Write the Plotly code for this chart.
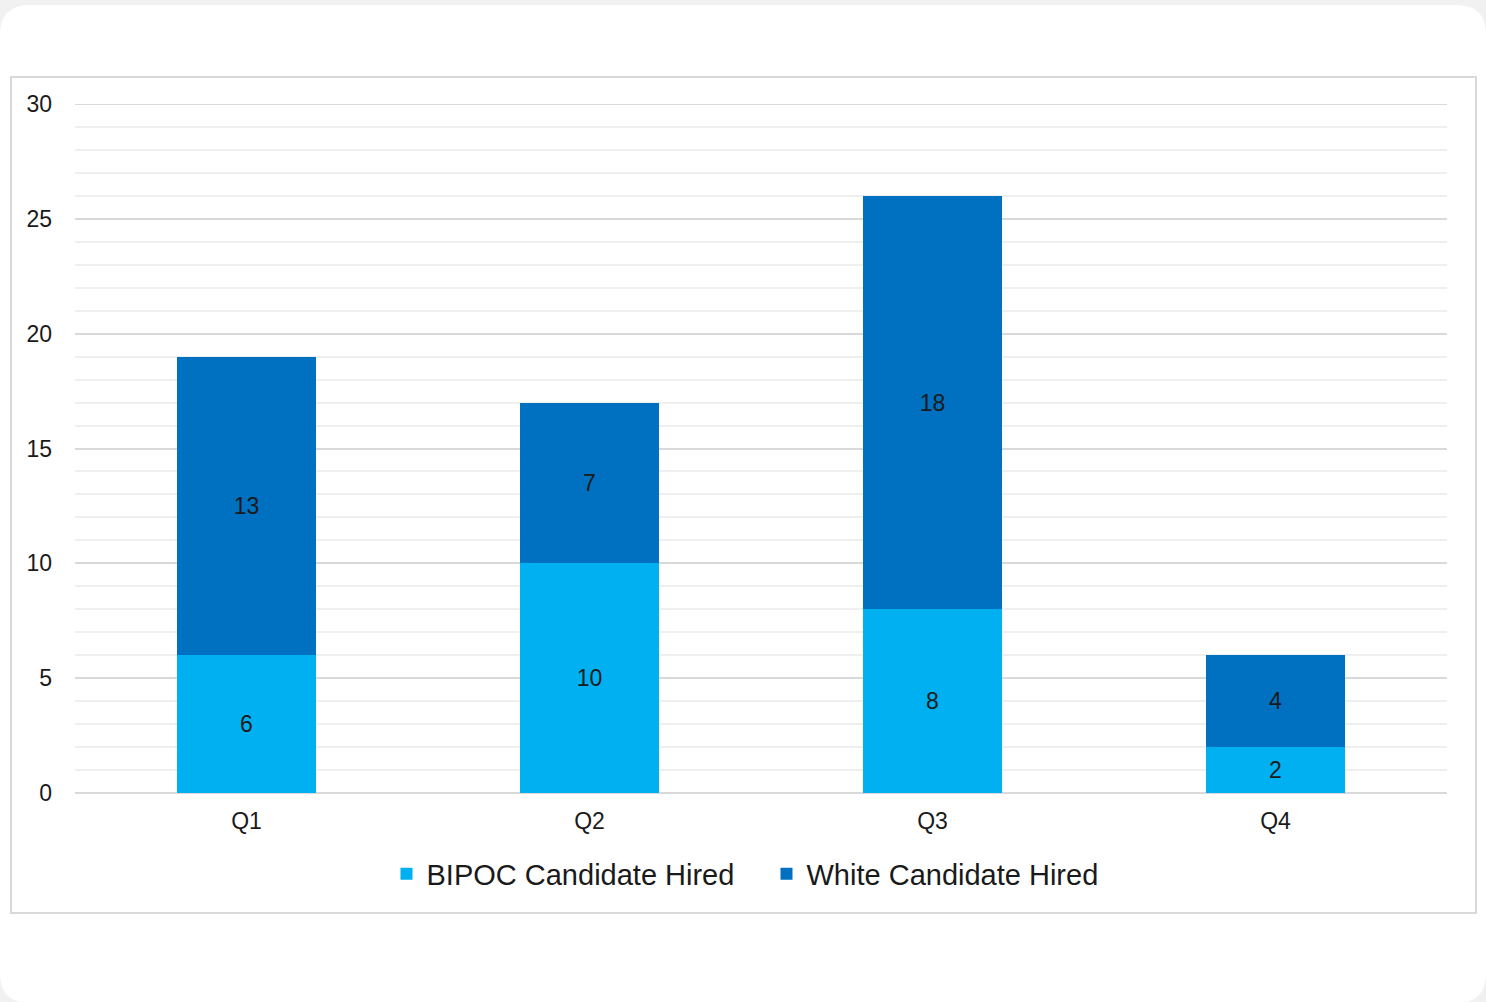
import plotly.graph_objects as go

# Hires per quarter, stacked by candidate group
quarters = ["Q1", "Q2", "Q3", "Q4"]
bipoc_hired = [6, 10, 8, 2]
white_hired = [13, 7, 18, 4]
y_ticks = [0, 5, 10, 15, 20, 25, 30]

W, H = 1486, 1002
# plot area in pixels
PX0, PX1, PY_TOP, PY_BOT = 75, 1447, 104, 793


def px(x):
    return (x - PX0) / (PX1 - PX0)


def py(y):
    return (PY_BOT - y) / (PY_BOT - PY_TOP)


def rounded_rect(x0, y0, x1, y1, r):
    return (
        f"M {px(x0 + r)},{py(y0)} L {px(x1 - r)},{py(y0)} "
        f"Q {px(x1)},{py(y0)} {px(x1)},{py(y0 + r)} "
        f"L {px(x1)},{py(y1 - r)} Q {px(x1)},{py(y1)} {px(x1 - r)},{py(y1)} "
        f"L {px(x0 + r)},{py(y1)} Q {px(x0)},{py(y1)} {px(x0)},{py(y1 - r)} "
        f"L {px(x0)},{py(y0 + r)} Q {px(x0)},{py(y0)} {px(x0 + r)},{py(y0)} Z"
    )


FONT = "Liberation Sans, Arial, sans-serif"
INK = "#1a1a1a"
label_font = dict(family=FONT, size=23, color=INK)

fig = go.Figure()
fig.add_trace(go.Bar(
    x=quarters, y=bipoc_hired, name="BIPOC Candidate Hired",
    marker=dict(color="#00b0f0", line=dict(width=0)),
    width=0.405, text=bipoc_hired, texttemplate="%{text}",
    textposition="inside", insidetextanchor="middle",
    textfont=label_font, textangle=0, hoverinfo="x+y+name",
))
fig.add_trace(go.Bar(
    x=quarters, y=white_hired, name="White Candidate Hired",
    marker=dict(color="#0070c0", line=dict(width=0)),
    width=0.405, text=white_hired, texttemplate="%{text}",
    textposition="inside", insidetextanchor="middle",
    textfont=label_font, textangle=0, hoverinfo="x+y+name",
))

shapes = [
    # white card
    dict(type="path", xref="paper", yref="paper", layer="below",
         path=rounded_rect(0, 5, 1486, 1003, 30),
         fillcolor="white", line=dict(width=0)),
    # chart frame
    dict(type="rect", xref="paper", yref="paper", layer="below",
         x0=px(11), x1=px(1476), y0=py(77), y1=py(913),
         fillcolor="white", line=dict(color="#d9d9d9", width=2)),
    # top major gridline at the range edge
    dict(type="line", xref="paper", yref="y", layer="below",
         x0=0, x1=1, y0=max(y_ticks), y1=max(y_ticks),
         line=dict(color="#d9d9d9", width=2)),
]

fig.update_layout(
    width=W, height=H,
    margin=dict(l=PX0, r=W - PX1, t=PY_TOP, b=H - PY_BOT, pad=0),
    paper_bgcolor="#f1f1f1",
    plot_bgcolor="rgba(0,0,0,0)",
    barmode="stack",
    shapes=shapes,
    showlegend=True,
    legend=dict(
        orientation="h", x=px(766.5), y=py(874),
        xanchor="center", yanchor="middle",
        font=dict(family=FONT, size=29, color=INK),
        bgcolor="rgba(0,0,0,0)", traceorder="normal",
        entrywidth=335,
    ),
    font=dict(family=FONT, color=INK),
    uniformtext=dict(mode="show", minsize=23),
)

fig.update_xaxes(
    type="category", showgrid=False, showline=False, zeroline=False,
    ticks="", tickfont=dict(family=FONT, size=23, color=INK),
    ticklabelstandoff=12,
)
fig.update_yaxes(
    range=[0, 30], tickvals=y_ticks, showline=False,
    zeroline=True, zerolinecolor="#d9d9d9", zerolinewidth=2,
    showgrid=True, gridcolor="#d9d9d9", gridwidth=2,
    minor=dict(dtick=1, showgrid=True, gridcolor="#efefef", gridwidth=1.5),
    ticks="", tickfont=dict(family=FONT, size=23, color=INK),
    ticklabelstandoff=22,
)

fig.write_html("out.html")
